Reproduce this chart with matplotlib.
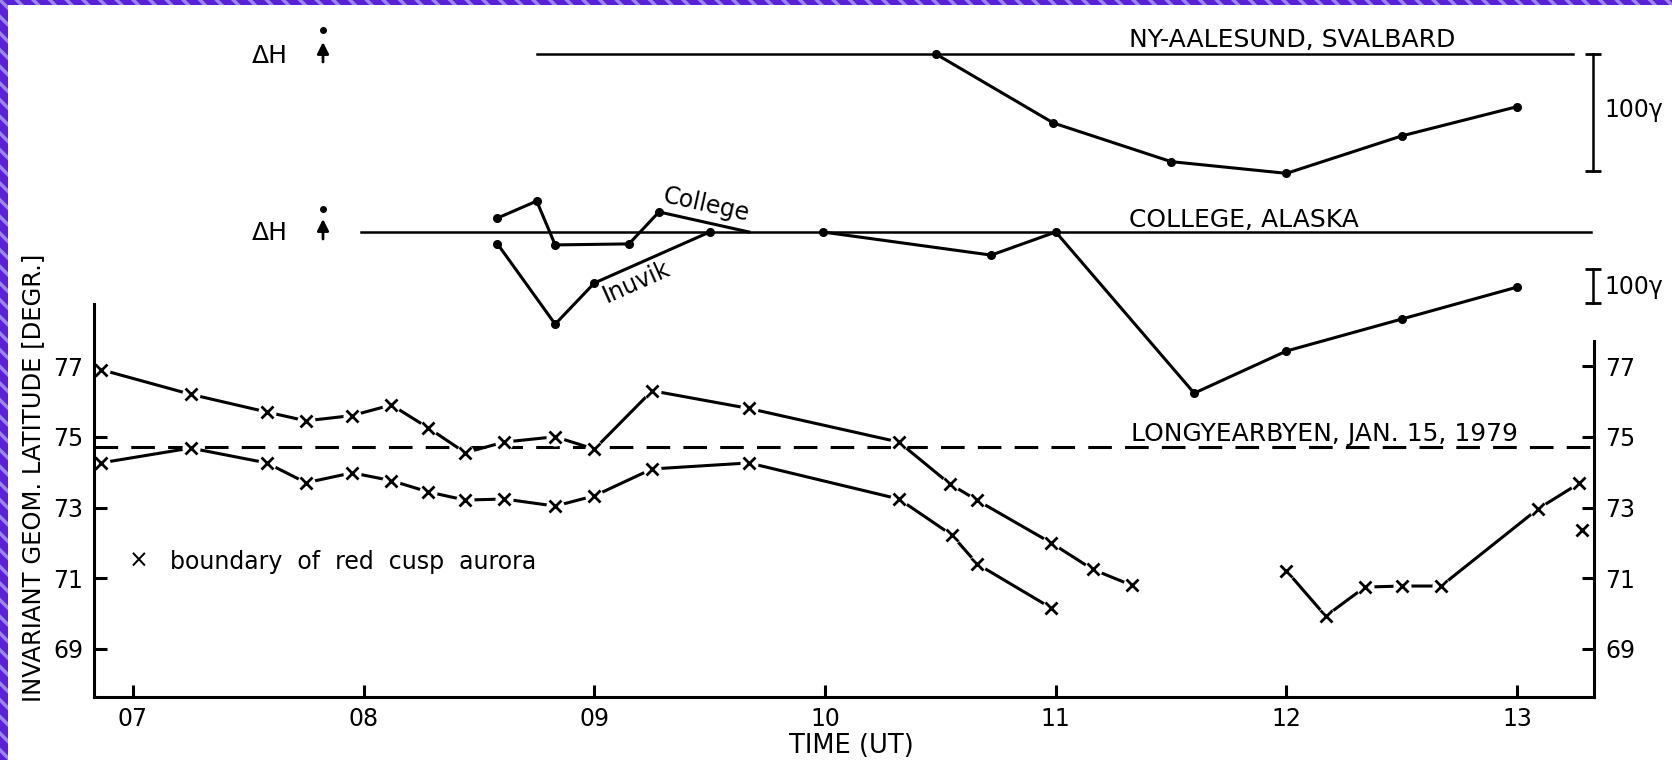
import matplotlib.pyplot as plt
from matplotlib.patches import Rectangle

# ---- data (time in UT hours) ----
# Longyearbyen, boundaries of red cusp aurora (invariant geom. latitude, deg)
upper_t = [6.86, 7.25, 7.58, 7.75, 7.95, 8.12, 8.28, 8.44, 8.61, 8.83, 9.0,
           9.25, 9.67, 10.32, 10.54, 10.66, 10.98, 11.16, 11.33]
upper_lat = [76.9, 76.2, 75.7, 75.45, 75.6, 75.9, 75.25, 74.55, 74.85, 75.0, 74.65,
             76.3, 75.8, 74.85, 73.67, 73.2, 72.0, 71.25, 70.8]
lower_t = [6.86, 7.25, 7.58, 7.75, 7.95, 8.12, 8.28, 8.44, 8.61, 8.83, 9.0,
           9.25, 9.67, 10.32, 10.55, 10.66, 10.98]
lower_lat = [74.26, 74.68, 74.26, 73.7, 73.98, 73.76, 73.44, 73.21, 73.24, 73.04, 73.33,
             74.09, 74.26, 73.24, 72.22, 71.4, 70.16]
late_t = [12.0, 12.17, 12.34, 12.5, 12.67, 13.09, 13.27]
late_lat = [71.21, 69.93, 70.75, 70.78, 70.78, 72.96, 73.69]
single_t = [13.28]
single_lat = [72.37]
station_lat = 74.71  # Longyearbyen, dashed

# magnetometer Delta H (gamma)
ny_t = [10.48, 10.99, 11.5, 12.0, 12.5, 13.0]
ny_dh = [0, -59, -92, -102, -70, -45]
college1_t = [8.58, 8.75, 8.83, 9.15, 9.28, 9.67]
college1_dh = [41, 91, -38, -35, 59, 0]
inuvik_t = [8.58, 8.83, 9.0, 9.5]
inuvik_dh = [-35, -271, -150, 0]
college2_t = [9.99, 10.72, 11.0, 11.6, 12.0, 12.5, 13.0]
college2_dh = [0, -68, 0, -474, -350, -256, -162]
ny_base_t = [8.75, 13.24]
college_base_t = [7.99, 13.32]

xticks = [7, 8, 9, 10, 11, 12, 13]
xlabels = ['07', '08', '09', '10', '11', '12', '13']
yticks = [69, 71, 73, 75, 77]

plt.rcParams['font.family'] = 'DejaVu Sans'
plt.rcParams['lines.scale_dashes'] = False
plt.rcParams['hatch.linewidth'] = 2.5

W, H = 1672, 760
def fx(x): return x / W
def fy(y): return 1 - y / H

fig = plt.figure(figsize=(W / 100, H / 100), dpi=100)
fig.patch.set_facecolor('white')

LW = 2.2
ax = fig.add_axes([fx(94), fy(697), (1594 - 94) / W, (697 - 304) / H])
ax.set_xlim(6.831, 13.333)
ax.set_ylim(67.643, 78.753)
ax.spines['top'].set_visible(False)
ax.spines['right'].set_bounds(67.643, 77.71)
for s in ax.spines.values():
    s.set_linewidth(LW)
    s.set_zorder(6)
ax.set_xticks(xticks)
ax.set_xticklabels(xlabels)
ax.set_yticks(yticks)
ax.tick_params(direction='in', length=9, width=LW, labelsize=17, pad=7)
ax.tick_params(axis='y', right=True, labelright=True, pad=8)

ax.axhline(station_lat, color='k', lw=LW, ls=(0, (17, 9.5)), zorder=1)
for t, lat in [(upper_t, upper_lat), (lower_t, lower_lat), (late_t, late_lat)]:
    ax.plot(t, lat, '-', color='k', lw=LW, zorder=2)
for t, lat in [(upper_t, upper_lat), (lower_t, lower_lat), (late_t, late_lat), (single_t, single_lat)]:
    ax.plot(t, lat, 'o', ms=13, mfc='white', mec='none', zorder=3)
    ax.plot(t, lat, 'x', ms=8.5, mew=2, color='k', zorder=4)


def dh_axes(base_px, px_per_gamma):
    a = fig.add_axes([fx(94), 0, (1594 - 94) / W, 1])
    a.set_xlim(ax.get_xlim())
    a.set_ylim((base_px - H) / px_per_gamma, base_px / px_per_gamma)
    a.axis('off')
    return a

ax_ny = dh_axes(54, 1.17)
ax_ny.plot(ny_base_t, [0, 0], color='k', lw=1.8)
ax_ny.plot(ny_t, ny_dh, '-o', color='k', lw=LW, ms=5.5)
ax_ny.plot([13.329, 13.329], [0, -100], '-', marker='_', color='k', lw=1.8, ms=11, mew=2,
           clip_on=False)

ax_co = dh_axes(232, 0.34)
ax_co.plot(college_base_t, [0, 0], color='k', lw=1.8)
ax_co.plot(college1_t, college1_dh, '-', color='k', lw=LW)
ax_co.plot(college1_t[:-1], college1_dh[:-1], 'o', color='k', ms=5.5)
ax_co.plot(inuvik_t, inuvik_dh, '-o', color='k', lw=LW, ms=5.5)
ax_co.plot(college2_t, college2_dh, '-o', color='k', lw=LW, ms=5.5)
ax_co.plot([13.329, 13.329], [-109, -209], '-', marker='_', color='k', lw=1.8, ms=11, mew=2,
           clip_on=False)

# texts
fs = 18
fig.text(fx(1129), fy(47), 'NY-AALESUND, SVALBARD', fontsize=fs, va='baseline')
fig.text(fx(1129), fy(227), 'COLLEGE, ALASKA', fontsize=fs, va='baseline')
fig.text(fx(1131), fy(441), 'LONGYEARBYEN, JAN. 15, 1979', fontsize=fs, va='baseline')
fig.text(fx(1604), fy(110), '100\u03b3', fontsize=17, va='center')
fig.text(fx(1604), fy(287), '100\u03b3', fontsize=17, va='center')
fig.text(fx(706), fy(205), 'College', fontsize=17, rotation=-12.5, ha='center', va='center')
fig.text(fx(636), fy(282), 'Inuvik', fontsize=17, rotation=24, ha='center', va='center')
fig.text(fx(851), fy(753), 'TIME (UT)', fontsize=18.5, ha='center', va='baseline')
fig.text(fx(33), fy(478), 'INVARIANT GEOM. LATITUDE [DEGR.]', fontsize=17.5, rotation=90,
         ha='center', va='center')
fig.text(fx(139), fy(561), '\u00d7', fontsize=17, ha='center', va='center')
fig.text(fx(170), fy(569), 'boundary  of  red  cusp  aurora', fontsize=17, va='baseline')

for ytxt, yarr0, yarr1, ydot in [(63, 62, 42, 30), (240, 239, 219, 209)]:
    fig.text(fx(252), fy(ytxt), '\u0394H', fontsize=fs, va='baseline')
    fig.add_artist(plt.Line2D([fx(323)], [fy(ydot)], marker='o', ms=4, color='k',
                              transform=fig.transFigure))
    ax.annotate('', xy=(fx(323), fy(yarr1)), xytext=(fx(323), fy(yarr0)),
                xycoords='figure fraction', textcoords='figure fraction',
                arrowprops=dict(arrowstyle='-|>', color='k', lw=2, mutation_scale=17,
                                shrinkA=0, shrinkB=0))

# scanned page border
fig.add_artist(Rectangle((0, 0), fx(8), 1, transform=fig.transFigure, facecolor='#5a22d6',
                         edgecolor='#9c86ee', hatch='\\\\', lw=0))
fig.add_artist(Rectangle((0, fy(5)), 1, 5 / H, transform=fig.transFigure,
                         facecolor='#5a22d6', edgecolor='#9c86ee', hatch='\\\\', lw=0))

fig.savefig('out.png', dpi=100)
